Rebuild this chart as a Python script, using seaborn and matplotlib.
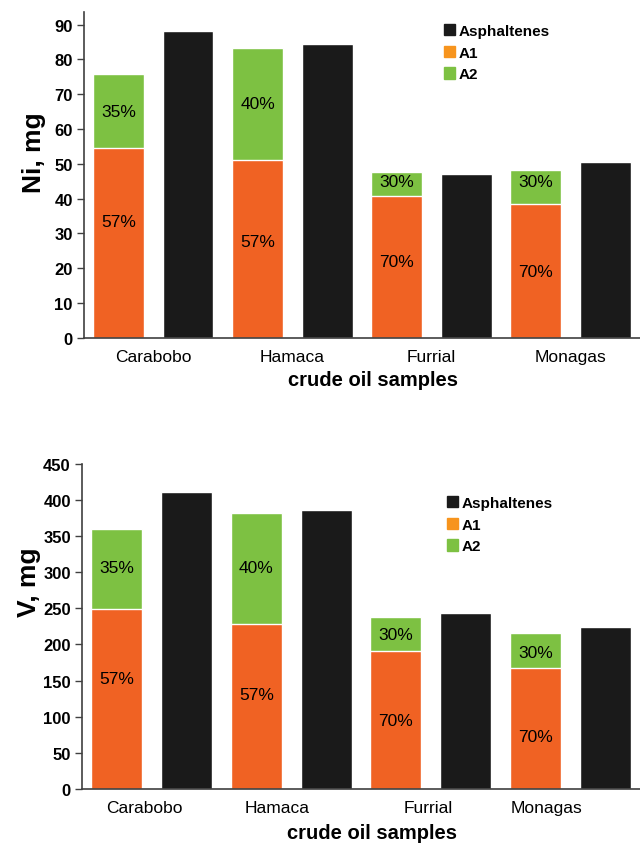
import numpy as np
import pandas as pd
import matplotlib
matplotlib.use("Agg")
import matplotlib.pyplot as plt
import seaborn as sns
from matplotlib.patches import Patch

# datos
samples = ["Carabobo", "Hamaca", "Furrial", "Monagas"]

ni_a1 = [54.4, 51.2, 40.8, 38.5]
ni_a2 = [21.5, 32.2, 6.8, 9.8]
ni_asph = [88.2, 84.4, 47.0, 50.5]
ni_pct_a1 = ["57%", "57%", "70%", "70%"]
ni_pct_a2 = ["35%", "40%", "30%", "30%"]

v_a1 = [248.8, 228.5, 191.5, 167.5]
v_a2 = [111.2, 153.5, 46.2, 49.0]
v_asph = [410.3, 385.4, 244.0, 223.8]
v_pct_a1 = ["57%", "57%", "70%", "70%"]
v_pct_a2 = ["35%", "40%", "30%", "30%"]

# posiciones de las etiquetas de porcentaje (en unidades del eje y)
ni_lab_y_a1 = [33.3, 27.8, 21.8, 19.1]
ni_lab_y_a2 = [65.0, 67.3, 45.0, 45.0]
v_lab_y_a1 = [153, 130.6, 94.6, 73]
v_lab_y_a2 = [307, 307, 213.7, 189]
v_xlab_shift = [-0.05, -0.1, -0.02, -0.17]

ORANGE = "#F06223"
ORANGE_LEG = "#F7941D"
GREEN = "#7DC142"
BLACK = "#1A1A1A"
SPINE = "#404040"

sns.set_style("white")
plt.rcParams["font.family"] = ["Liberation Sans", "DejaVu Sans"]
plt.rcParams["text.color"] = "black"
plt.rcParams["axes.labelcolor"] = "black"
plt.rcParams["xtick.color"] = "black"
plt.rcParams["ytick.color"] = "black"


def panel(ax, a1, a2, asph, pct1, pct2, y1, y2, ymax, yticks, ylabel, ylab_xy, xshift, xlab_y, leg_anchor):
    total = [p + q for p, q in zip(a1, a2)]
    df = pd.DataFrame({
        "sample": samples * 2,
        "kind": ["frac"] * 4 + ["asph"] * 4,
        "top": total + asph,
        "low": a1 + asph,
    })
    sns.barplot(data=df, x="sample", y="top", hue="kind", hue_order=["frac", "asph"],
                palette={"frac": GREEN, "asph": BLACK}, width=1.0, gap=0.27,
                errorbar=None, legend=False, ax=ax, saturation=1)
    sns.barplot(data=df, x="sample", y="low", hue="kind", hue_order=["frac", "asph"],
                palette={"frac": ORANGE, "asph": BLACK}, width=1.0, gap=0.27,
                errorbar=None, legend=False, ax=ax, saturation=1)
    for i in range(4):
        ax.text(i - 0.25, y1[i], pct1[i], ha="center", va="center", fontsize=12.5)
        ax.text(i - 0.25, y2[i], pct2[i], ha="center", va="center", fontsize=12.5)

    ax.set_xlim(-0.5, 3.5)
    ax.set_ylim(0, ymax)
    ax.set_yticks(yticks)
    ax.set_yticklabels([str(t) for t in yticks], fontweight="bold", fontsize=12)
    ax.set_xticks(np.arange(4) + np.array(xshift), labels=samples, fontsize=12.5)
    ax.set_xticks(np.arange(-0.5, 3.6, 0.5), minor=True)
    ax.tick_params(axis="x", which="major", length=0, pad=8)
    ax.tick_params(axis="x", which="minor", length=4, direction="out", color=SPINE, width=1)
    ax.tick_params(axis="y", length=5, direction="out", color=SPINE, width=1, pad=3, left=True)
    sns.despine(ax=ax)
    for s in ["left", "bottom"]:
        ax.spines[s].set_color(SPINE)
        ax.spines[s].set_linewidth(1.2)

    ax.set_ylabel(ylabel, fontsize=19, fontweight="bold")
    ax.yaxis.set_label_coords(*ylab_xy)
    ax.set_xlabel("crude oil samples", fontsize=14.5, fontweight="bold")
    ax.xaxis.set_label_coords(0.52, xlab_y)

    handles = [Patch(color=BLACK, label="Asphaltenes"),
               Patch(color=ORANGE_LEG, label="A1"),
               Patch(color=GREEN, label="A2")]
    ax.legend(handles=handles, loc="upper left", bbox_to_anchor=leg_anchor,
              bbox_transform=ax.figure.transFigure, frameon=False,
              prop={"size": 11, "weight": "bold"}, handlelength=0.75, handleheight=0.75,
              handletextpad=0.2, labelspacing=0.5, borderpad=0, borderaxespad=0)


fig = plt.figure(figsize=(6.4, 8.45), dpi=100)
ax1 = fig.add_axes([0.131, 0.599, 0.869, 0.386])
ax2 = fig.add_axes([0.128, 0.065, 0.872, 0.385])

panel(ax1, ni_a1, ni_a2, ni_asph, ni_pct_a1, ni_pct_a2, ni_lab_y_a1, ni_lab_y_a2,
      93.7, list(range(0, 91, 10)), "Ni, mg", (-0.068, 0.57), [0, 0, 0, 0], -0.1,
      (444 / 640, 1 - 25 / 845))
panel(ax2, v_a1, v_a2, v_asph, v_pct_a1, v_pct_a2, v_lab_y_a1, v_lab_y_a2,
      450, list(range(0, 451, 50)), "V, mg", (-0.073, 0.64), v_xlab_shift, -0.105,
      (447 / 640, 1 - 497 / 845))

fig.savefig("out.png", dpi=100)
